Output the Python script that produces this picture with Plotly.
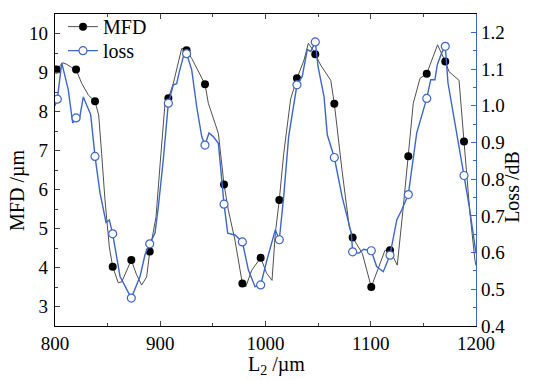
import plotly.graph_objects as go

# ---- data ----
mfd_x = [800, 801.6, 807.3, 811.1, 815.8, 820, 825.4, 831.7, 838, 841.5, 844.3, 847.5, 851.6,
         854.8, 860.1, 863.4, 872.5, 877, 882.3, 887.1, 890, 896, 900, 904.5, 907.7, 912.4,
         920.4, 925, 929.9, 937.8, 942.5, 945.7, 955.2, 960.6, 964.7, 971, 978, 981.2, 986.9,
         995.4, 1001.1, 1006.2, 1009.3, 1013.1, 1017.3, 1023.9, 1029.9, 1036.6, 1040.7, 1045.4,
         1047.3, 1052.4, 1062, 1065.4, 1072.7, 1079.6, 1082.8, 1092, 1100.5, 1107.8, 1113.5,
         1118.3, 1125.2, 1130.9, 1135.7, 1140.4, 1146.8, 1153.2, 1163.5, 1167.4, 1170.8, 1174.4,
         1183.9, 1188.6, 1194.3, 1199, 1200]
mfd_y = [9.06, 9.08, 9.25, 9.21, 9.13, 9.08, 8.72, 8.42, 8.26, 7.91, 6.92, 5.73, 4.53,
         4.02, 3.61, 3.63, 4.19, 3.85, 3.55, 3.76, 4.41, 5.3, 6.7, 8.2, 8.34, 8.72,
         9.62, 9.57, 9.36, 8.97, 8.70, 8.21, 7.44, 6.13, 5.47, 4.70, 3.59, 3.50, 3.93,
         4.25, 3.85, 3.67, 4.87, 5.73, 6.92, 8.32, 8.85, 9.32, 9.75, 9.57,
         9.47, 9.19, 8.80, 8.20, 6.49, 5.04, 4.77, 4.36, 3.50, 4.06, 4.44,
         4.44, 4.06, 5.55, 6.85, 8.21, 8.85, 8.97, 9.71, 9.49, 9.28, 9.02,
         8.80, 7.23, 5.38, 4.19, 4.05]

mfd_mark_x = [801.6, 820, 838, 854.8, 872.5, 890, 907.7, 925, 942.5, 960.6, 978, 995.4,
              1013.1, 1029.9, 1047.3, 1065.4, 1082.8, 1100.5, 1118.3, 1135.7, 1153.2, 1170.8, 1188.6]
mfd_mark_y = [9.08, 9.08, 8.26, 4.02, 4.19, 4.41, 8.34, 9.57, 8.70, 6.13, 3.59, 4.25,
              5.73, 8.85, 9.47, 8.20, 4.77, 3.50, 4.44, 6.85, 8.97, 9.28, 7.23]

loss_x = [800, 802.2, 806.4, 812.6, 816.8, 820, 823.1, 826.9, 833.9, 838, 842.8, 848.5, 851.6,
          854.8, 861.8, 872.5, 880.8, 885.5, 890, 895, 898.2, 902.9, 907.7, 912.4, 915.6, 917.8,
          922.9, 925, 929.9, 934.6, 939.4, 942.5, 946.3, 950.4, 955.2, 960.6, 964.1, 971, 978,
          983.7, 990, 995.4, 1001.4, 1009.3, 1013.1, 1017.3, 1022, 1029.9, 1034.9, 1039.7, 1043,
          1047.3, 1049.9, 1055.6, 1058.7, 1065.4, 1072.7, 1081.5, 1082.8, 1088.5, 1093.3, 1100.5,
          1105.6, 1111.9, 1118.3, 1124.7, 1129.4, 1135.7, 1138.9, 1143.7, 1153.2, 1157, 1161,
          1163.2, 1167.4, 1170.8, 1173.4, 1179.1, 1182.9, 1188.6, 1193.6, 1200]
loss_y = [1.0, 1.018, 1.117, 1.044, 0.953, 0.967, 0.962, 1.024, 0.976, 0.862, 0.762, 0.682, 0.689,
          0.651, 0.535, 0.476, 0.535, 0.594, 0.624, 0.653, 0.725, 0.853, 1.007, 1.057, 1.060, 1.089,
          1.144, 1.142, 1.098, 0.998, 0.916, 0.893, 0.926, 0.916, 0.898, 0.732, 0.653, 0.648, 0.629,
          0.553, 0.507, 0.512, 0.580, 0.662, 0.635, 0.753, 0.916, 1.057, 1.080, 1.153, 1.148,
          1.174, 1.107, 1.025, 0.921, 0.859, 0.753, 0.653, 0.602, 0.598, 0.609, 0.605,
          0.562, 0.548, 0.593, 0.689, 0.716, 0.758, 0.826, 0.926, 1.020, 1.071, 1.071,
          1.112, 1.144, 1.162, 1.062, 0.971, 0.907, 0.810, 0.725, 0.598]

loss_mark_x = [802.2, 820, 838, 854.8, 872.5, 890, 907.7, 925, 942.5, 960.6, 978, 995.4,
               1013.1, 1029.9, 1047.3, 1065.4, 1082.8, 1100.5, 1118.3, 1135.7, 1153.2, 1170.8, 1188.6]
loss_mark_y = [1.018, 0.967, 0.862, 0.651, 0.476, 0.624, 1.007, 1.142, 0.893, 0.732, 0.629, 0.512,
               0.635, 1.057, 1.174, 0.859, 0.602, 0.605, 0.593, 0.758, 1.020, 1.162, 0.810]

x_ticks = [800, 900, 1000, 1100, 1200]

BLACK_LINE = "#505050"
BLUE = "#3d66c8"
FONT = "Liberation Serif"

fig = go.Figure()

# MFD line + markers
fig.add_trace(go.Scatter(x=mfd_x, y=mfd_y, mode="lines", line=dict(color=BLACK_LINE, width=1),
                         showlegend=False, yaxis="y"))
fig.add_trace(go.Scatter(x=mfd_mark_x, y=mfd_mark_y, mode="markers",
                         marker=dict(color="black", size=8), showlegend=False, yaxis="y"))
# loss line + markers
fig.add_trace(go.Scatter(x=loss_x, y=loss_y, mode="lines", line=dict(color=BLUE, width=1.4),
                         showlegend=False, yaxis="y2"))
fig.add_trace(go.Scatter(x=loss_mark_x, y=loss_mark_y, mode="markers",
                         marker=dict(color="white", size=8, line=dict(color=BLUE, width=1.2)),
                         showlegend=False, yaxis="y2"))
# legend entries
fig.add_trace(go.Scatter(x=[None], y=[None], mode="lines+markers", name="MFD",
                         line=dict(color=BLACK_LINE, width=1), marker=dict(color="black", size=8),
                         yaxis="y", legend="legend"))
fig.add_trace(go.Scatter(x=[None], y=[None], mode="lines+markers", name="loss",
                         line=dict(color=BLUE, width=1.4),
                         marker=dict(color="white", size=8, line=dict(color=BLUE, width=1.2)),
                         yaxis="y2", legend="legend2"))

fig.update_layout(
    width=534, height=380,
    margin=dict(l=55, r=58, t=14, b=54, autoexpand=False),
    paper_bgcolor="white", plot_bgcolor="white",
    font=dict(family=FONT, size=19, color="black"),
    showlegend=True,
    legend=dict(x=0.019, y=1.022, xanchor="left", yanchor="top", bgcolor="rgba(0,0,0,0)",
                font=dict(family=FONT, size=20), itemwidth=30),
    legend2=dict(x=0.019, y=0.945, xanchor="left", yanchor="top", bgcolor="rgba(0,0,0,0)",
                 font=dict(family=FONT, size=20), itemwidth=30),
    xaxis=dict(range=[800, 1200], tickvals=x_ticks, ticks="inside", ticklen=5, tickwidth=1,
               showline=True, linecolor="black", linewidth=1.2, mirror="ticks",
               showgrid=False, zeroline=False, automargin=False, ticklabelstandoff=0,
               minor=dict(dtick=50, ticks="inside", ticklen=3, showgrid=False)),
    yaxis=dict(range=[2.5, 10.5], dtick=1, tick0=0, ticks="inside", ticklen=5, tickwidth=1,
               showline=True, linecolor="black", linewidth=1.2, showgrid=False, zeroline=False,
               automargin=False, ticklabelstandoff=2,
               minor=dict(dtick=0.5, ticks="inside", ticklen=3, showgrid=False)),
    yaxis2=dict(range=[0.4, 1.25], dtick=0.1, tick0=0, tickformat=".1f", overlaying="y",
                side="right", ticks="inside", ticklen=5, tickwidth=1, tickcolor=BLUE,
                showline=True, linecolor=BLUE, linewidth=1.2, showgrid=False, zeroline=False,
                automargin=False,
                minor=dict(dtick=0.05, ticks="inside", ticklen=3, tickcolor=BLUE, showgrid=False)),
    annotations=[
        dict(text="L<sub>2</sub> /µm", xref="paper", yref="paper", x=0.525, y=-0.125,
             xanchor="center", yanchor="middle", showarrow=False, font=dict(size=20)),
        dict(text="MFD /µm", xref="paper", yref="paper", x=-0.088, y=0.436, textangle=-90,
             xanchor="center", yanchor="middle", showarrow=False, font=dict(size=20)),
        dict(text="Loss /dB", xref="paper", yref="paper", x=1.0855, y=0.446, textangle=-90,
             xanchor="center", yanchor="middle", showarrow=False, font=dict(size=20)),
    ],
)

fig.write_html("out.html", config={"displayModeBar": False},
               post_script="document.body.style.margin='0px';")
